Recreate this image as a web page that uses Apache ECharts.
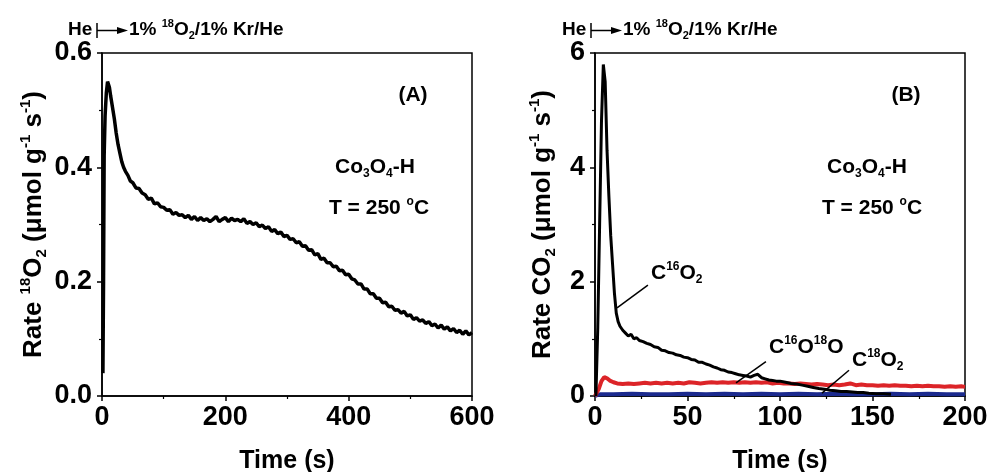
<!DOCTYPE html>
<html>
<head>
<meta charset="utf-8">
<script src="https://cdn.jsdelivr.net/npm/echarts@6/dist/echarts.min.js"></script>
<style>
    html, body { margin: 0; padding: 0; background: #fff; }
    #chart { width: 988px; height: 472px; }
</style>
</head>
<body>
<div id="chart"></div>
<script>
    // panel A: 18O2 rate, Co3O4-H at 250 C
    const timeA = [1.5, 2.5, 3.5, 5, 7, 9, 10.5, 12, 14, 17, 20, 23, 26, 29, 32, 35, 38, 42, 46, 50,
        55, 60, 65, 70, 75, 80, 85, 90, 95, 100, 105, 110, 115, 120, 125, 130, 135, 140, 145, 150,
        155, 160, 165, 170, 175, 180, 185, 190, 195, 200, 205, 210, 215, 220, 225, 230, 235, 240, 245, 250,
        255, 260, 265, 270, 275, 280, 285, 290, 295, 300, 305, 310, 315, 320, 325, 330, 335, 340, 345, 350,
        355, 360, 365, 370, 375, 380, 385, 390, 395, 400, 405, 410, 415, 420, 425, 430, 435, 440, 445, 450,
        455, 460, 465, 470, 475, 480, 485, 490, 495, 500, 505, 510, 515, 520, 525, 530, 535, 540, 545, 550,
        555, 560, 565, 570, 575, 580, 585, 590, 595, 600];
    const rateA = [0.04, 0.20, 0.42, 0.49, 0.53, 0.55, 0.548, 0.54, 0.525, 0.505, 0.485, 0.46, 0.44, 0.425, 0.41, 0.40, 0.393, 0.386, 0.376, 0.373,
        0.364, 0.363, 0.355, 0.352, 0.344, 0.346, 0.336, 0.338, 0.331, 0.330, 0.325, 0.326, 0.318, 0.321, 0.316, 0.317, 0.312, 0.316, 0.309, 0.314,
        0.307, 0.312, 0.307, 0.310, 0.305, 0.309, 0.314, 0.305, 0.309, 0.312, 0.305, 0.311, 0.307, 0.309, 0.305, 0.310, 0.302, 0.305, 0.300, 0.303,
        0.296, 0.299, 0.293, 0.296, 0.288, 0.291, 0.284, 0.287, 0.279, 0.281, 0.274, 0.275, 0.268, 0.270, 0.262, 0.263, 0.255, 0.256, 0.247, 0.249,
        0.239, 0.241, 0.233, 0.233, 0.226, 0.227, 0.219, 0.220, 0.212, 0.213, 0.205, 0.203, 0.196, 0.196, 0.187, 0.187, 0.179, 0.179, 0.171, 0.171,
        0.163, 0.164, 0.156, 0.157, 0.150, 0.151, 0.145, 0.148, 0.140, 0.142, 0.134, 0.137, 0.131, 0.133, 0.127, 0.130, 0.123, 0.126, 0.119, 0.124,
        0.117, 0.121, 0.114, 0.118, 0.111, 0.115, 0.108, 0.114, 0.107, 0.111];

    // panel B: CO2 isotopologue rates
    const timeC16O2 = [0.5, 1.5, 2.5, 3.5, 4.5, 5.5, 6.5, 7.5, 8.5, 9.5, 10.5, 11.5, 12.5, 13.5, 15, 16.5, 18, 19.5, 21, 22.5,
        24, 26, 28, 30, 32, 34, 36, 38, 40, 42, 44, 46, 48, 50, 52, 54, 56, 58, 60, 62,
        64, 66, 68, 70, 72, 74, 76, 78, 80, 82, 84, 86, 88, 90, 92, 94, 96, 98, 100, 103,
        106, 109, 112, 115, 118, 121, 124, 127, 130, 133, 136, 139, 142, 145, 148, 152, 156, 160];
    const rateC16O2 = [0, 1.2, 3.0, 4.8, 5.8, 5.5, 4.3, 3.5, 2.8, 2.3, 1.8, 1.45, 1.3, 1.22, 1.15, 1.1, 1.05, 1.08, 1.0, 1.02,
        0.97, 0.95, 0.92, 0.90, 0.86, 0.85, 0.80, 0.79, 0.76, 0.75, 0.72, 0.71, 0.68, 0.67, 0.64, 0.63, 0.59, 0.59, 0.56, 0.54,
        0.51, 0.49, 0.46, 0.45, 0.42, 0.41, 0.39, 0.37, 0.36, 0.35, 0.33, 0.36, 0.38, 0.32, 0.30, 0.28, 0.27, 0.26, 0.26, 0.24,
        0.22, 0.21, 0.19, 0.17, 0.15, 0.13, 0.12, 0.10, 0.09, 0.08, 0.08, 0.07, 0.06, 0.06, 0.05, 0.04, 0.04, 0.03];
    const timeC16O18O = [0, 2, 3.5, 5, 6.5, 8, 10, 12, 15, 18, 21, 24, 27, 30, 33, 36, 39, 42, 45, 48,
        51, 54, 57, 60, 63, 66, 69, 72, 75, 78, 81, 84, 87, 90, 93, 96, 99, 102, 105, 108,
        111, 114, 117, 120, 123, 126, 129, 132, 135, 138, 141, 144, 147, 150, 153, 156, 159, 162, 165, 168,
        171, 174, 177, 180, 183, 186, 189, 192, 195, 198, 200];
    const rateC16O18O = [0, 0.12, 0.26, 0.33, 0.31, 0.27, 0.24, 0.22, 0.21, 0.22, 0.21, 0.22, 0.23, 0.22, 0.23, 0.22, 0.23, 0.22, 0.23, 0.22,
        0.24, 0.23, 0.22, 0.23, 0.24, 0.23, 0.24, 0.23, 0.24, 0.23, 0.24, 0.23, 0.24, 0.23, 0.24, 0.22, 0.23, 0.22, 0.22, 0.21,
        0.22, 0.21, 0.20, 0.21, 0.20, 0.19, 0.20, 0.19, 0.20, 0.22, 0.19, 0.20, 0.19, 0.19, 0.18, 0.19, 0.18, 0.19, 0.18, 0.18,
        0.17, 0.18, 0.17, 0.18, 0.17, 0.17, 0.16, 0.17, 0.16, 0.17, 0.16];
    const timeC18O2 = [0, 1.5, 3, 10, 20, 30, 40, 50, 60, 70, 80, 90, 100, 110, 120, 130, 140, 150, 160, 170, 180, 190, 200];
    const rateC18O2 = [0, 0.02, 0.03, 0.03, 0.04, 0.03, 0.03, 0.04, 0.03, 0.04, 0.03, 0.04, 0.03, 0.04, 0.03, 0.04, 0.03, 0.03, 0.04, 0.03, 0.04, 0.03, 0.03];

    // leader lines from labels to curves, in data units [x1, y1, x2, y2]
    const leaderC16O2 = [11.9, 1.54, 28.6, 1.94];
    const leaderC16O18O = [76.2, 0.23, 92.4, 0.6];
    const leaderC18O2 = [122.7, 0.05, 137.3, 0.45];

    const FF = '"Liberation Sans", Arial, sans-serif';

    function pairs(xs, ys) {
        return xs.map((x, i) => [x, ys[i]]);
    }

    function richFor(size) {
        return {
            sup: {fontSize: Math.round(size * 0.58), fontWeight: 'bold', fontFamily: FF, color: '#000', verticalAlign: 'top', lineHeight: Math.round(size * 0.75)},
            sub: {fontSize: Math.round(size * 0.58), fontWeight: 'bold', fontFamily: FF, color: '#000', verticalAlign: 'bottom', lineHeight: Math.round(size * 0.5)}
        };
    }

    function leader(seg) {
        return [{coord: [seg[0], seg[1]]}, {coord: [seg[2], seg[3]]}];
    }

    function xAxisFor(gridIndex, max, interval) {
        return {
            type: 'value', gridIndex, min: 0, max, interval,
            name: 'Time (s)', nameLocation: 'middle', nameGap: 53,
            nameTextStyle: {fontSize: 25, fontWeight: 'bold', fontFamily: FF, color: '#000'},
            axisLine: {lineStyle: {color: '#000', width: 1.5}},
            axisTick: {inside: false, length: 5, lineStyle: {color: '#000', width: 1.5}},
            minorTick: {show: true, splitNumber: 2, length: 3, lineStyle: {color: '#000', width: 1.2}},
            axisLabel: {fontSize: 27, fontWeight: 'bold', fontFamily: FF, color: '#000', margin: 8},
            splitLine: {show: false}
        };
    }

    function yAxisFor(gridIndex, max, interval, nameText, nameGap, digits) {
        return {
            type: 'value', gridIndex, min: 0, max, interval,
            name: nameText, nameLocation: 'middle', nameGap, nameRotate: 90,
            nameTextStyle: {fontSize: 26, fontWeight: 'bold', fontFamily: FF, color: '#000', lineHeight: 31, rich: richFor(26)},
            axisLine: {show: true, lineStyle: {color: '#000', width: 1.5}},
            axisTick: {inside: false, length: 5, lineStyle: {color: '#000', width: 1.5}},
            minorTick: {show: true, splitNumber: 2, length: 3, lineStyle: {color: '#000', width: 1.2}},
            axisLabel: {fontSize: 27, fontWeight: 'bold', fontFamily: FF, color: '#000', margin: 10,
                formatter: v => v.toFixed(digits)},
            splitLine: {show: false}
        };
    }

    function textEl(x, y, text, size, align) {
        return {
            type: 'text', x, y, silent: true,
            style: {
                text, fill: '#000', fontSize: size, fontWeight: 'bold', fontFamily: FF,
                align: align || 'left', verticalAlign: 'middle', lineHeight: size + 4,
                rich: richFor(size)
            }
        };
    }

    function header(x0) {
        return [
            textEl(x0, 30, 'He', 19),
            {type: 'line', silent: true, shape: {x1: x0 + 29, y1: 23, x2: x0 + 29, y2: 38}, style: {stroke: '#000', lineWidth: 1.5}},
            {type: 'line', silent: true, shape: {x1: x0 + 29, y1: 30.5, x2: x0 + 52, y2: 30.5}, style: {stroke: '#000', lineWidth: 1.5}},
            {type: 'polygon', silent: true, shape: {points: [[x0 + 49, 27], [x0 + 60, 30.5], [x0 + 49, 34]]}, style: {fill: '#000'}},
            textEl(x0 + 61, 30, '1% {sup|18}O{sub|2}/1% Kr/He', 19)
        ];
    }

    const chart = echarts.init(document.getElementById('chart'));

    chart.setOption({
        animation: false,
        backgroundColor: '#fff',
        grid: [
            {left: 102, top: 53, width: 370, height: 343, show: true, borderColor: '#000', borderWidth: 1.5,
                containLabel: false, outerBoundsMode: 'none'},
            {left: 595, top: 53, width: 370, height: 343, show: true, borderColor: '#000', borderWidth: 1.5,
                containLabel: false, outerBoundsMode: 'none'}
        ],
        xAxis: [xAxisFor(0, 600, 200), xAxisFor(1, 200, 50)],
        yAxis: [
            yAxisFor(0, 0.6, 0.2, 'Rate {sup|18}O{sub|2} (μmol g{sup|-1} s{sup|-1})', 53, 1),
            yAxisFor(1, 6, 2, 'Rate CO{sub|2} (μmol g{sup|-1} s{sup|-1})', 37, 0)
        ],
        series: [
            {
                name: '18O2', type: 'line', xAxisIndex: 0, yAxisIndex: 0,
                data: pairs(timeA, rateA), showSymbol: false,
                lineStyle: {color: '#000', width: 3.5}
            },
            {
                name: 'C18O2', type: 'line', xAxisIndex: 1, yAxisIndex: 1,
                data: pairs(timeC18O2, rateC18O2), showSymbol: false,
                lineStyle: {color: '#1b2a8e', width: 4}
            },
            {
                name: 'C16O18O', type: 'line', xAxisIndex: 1, yAxisIndex: 1,
                data: pairs(timeC16O18O, rateC16O18O), showSymbol: false,
                lineStyle: {color: '#dc2428', width: 4}
            },
            {
                name: 'C16O2', type: 'line', xAxisIndex: 1, yAxisIndex: 1,
                data: pairs(timeC16O2, rateC16O2), showSymbol: false,
                lineStyle: {color: '#000', width: 3},
                markLine: {
                    silent: true, symbol: 'none', label: {show: false},
                    lineStyle: {color: '#000', width: 1.5, type: 'solid'},
                    data: [leader(leaderC16O2), leader(leaderC16O18O), leader(leaderC18O2)]
                }
            }
        ],
        graphic: [
            ...header(68),
            ...header(562),
            textEl(413, 95, '(A)', 21, 'center'),
            textEl(375, 167, 'Co{sub|3}O{sub|4}-H', 21, 'center'),
            textEl(379, 208, 'T = 250 {sup|o}C', 21, 'center'),
            textEl(906, 95, '(B)', 21, 'center'),
            textEl(867, 167, 'Co{sub|3}O{sub|4}-H', 21, 'center'),
            textEl(872, 208, 'T = 250 {sup|o}C', 21, 'center'),
            textEl(651, 273, 'C{sup|16}O{sub|2}', 21, 'left'),
            textEl(769, 347, 'C{sup|16}O{sup|18}O', 21, 'left'),
            textEl(852, 360, 'C{sup|18}O{sub|2}', 21, 'left')
        ]
    });
</script>
</body>
</html>
